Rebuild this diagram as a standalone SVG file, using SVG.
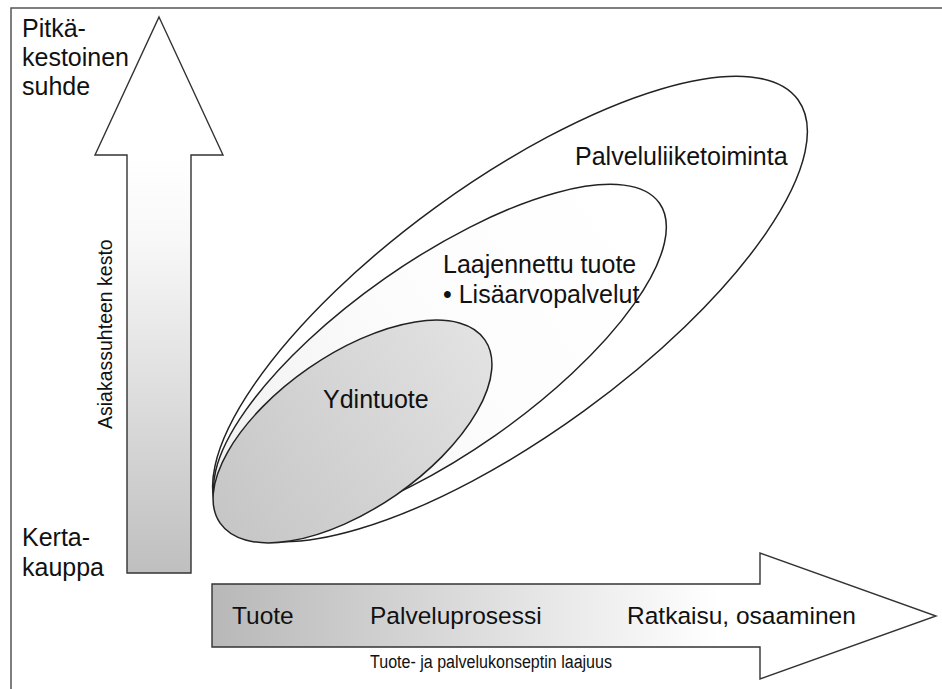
<svg xmlns="http://www.w3.org/2000/svg" width="942" height="689" viewBox="0 0 942 689">
  <style>
    .lbl { font-family: "Liberation Sans", Arial, sans-serif; fill: #111; }
    .big { font-size: 25px; }
    .axis-lbl { font-size: 24.5px; }
    .outline { stroke: #222; stroke-width: 1.5; }
    .block { stroke: #333; stroke-width: 1.4; stroke-linejoin: miter; }
  </style>
  <defs>
    <linearGradient id="gradUp" x1="0" y1="155" x2="0" y2="573" gradientUnits="userSpaceOnUse">
      <stop offset="0" stop-color="#ffffff"/>
      <stop offset="0.2" stop-color="#f8f8f8"/>
      <stop offset="1" stop-color="#bfbfbf"/>
    </linearGradient>
    <linearGradient id="gradRight" x1="212" y1="0" x2="936" y2="0" gradientUnits="userSpaceOnUse">
      <stop offset="0" stop-color="#b8b8b8"/>
      <stop offset="0.7" stop-color="#ffffff"/>
      <stop offset="1" stop-color="#ffffff"/>
    </linearGradient>
    <linearGradient id="gradCore" x1="0" y1="0" x2="1" y2="0">
      <stop offset="0" stop-color="#c6c6c6"/>
      <stop offset="1" stop-color="#e2e2e2"/>
    </linearGradient>
    <linearGradient id="gradExt" x1="0" y1="0" x2="1" y2="0">
      <stop offset="0" stop-color="#f0f0f0"/>
      <stop offset="0.5" stop-color="#fcfcfc"/>
      <stop offset="1" stop-color="#ffffff"/>
    </linearGradient>
  </defs>

  <!-- page background and frame -->
  <rect x="0" y="0" width="942" height="689" fill="#ffffff"/>
  <path d="M11,689 L11,8 L942,8" fill="none" stroke="#555" stroke-width="1.5"/>

  <!-- block arrows for the two axes -->
  <g id="connectors">
    <path id="axis-duration" class="block" fill="url(#gradUp)"
          d="M159,17 L223,155 L191,155 L191,573 L127,573 L127,155 L95,155 Z"/>
    <path id="axis-scope" class="block" fill="url(#gradRight)"
          d="M212,584 L760,584 L760,553 L936,616 L760,679 L760,647 L212,647 Z"/>
  </g>

  <!-- nested offering ellipses, all meeting near the lower-left corner -->
  <g id="node-service-business">
    <ellipse class="outline" cx="510" cy="309" rx="356" ry="126" fill="#ffffff" transform="rotate(-36 510 309)"/>
    <text class="lbl big" x="575" y="165">Palveluliiketoiminta</text>
  </g>
  <g id="node-extended-product">
    <ellipse class="outline" cx="440" cy="357" rx="268" ry="96" fill="url(#gradExt)" transform="rotate(-35 440 357)"/>
    <text class="lbl big" x="443" y="273">Laajennettu tuote</text>
    <text class="lbl big" x="443" y="303">• Lisäarvopalvelut</text>
  </g>
  <g id="node-core-product">
    <ellipse class="outline" cx="352.5" cy="431.5" rx="161" ry="77" fill="url(#gradCore)" transform="rotate(-34.7 352.5 431.5)"/>
    <text class="lbl big" x="323" y="408">Ydintuote</text>
  </g>

  <!-- axis end labels -->
  <g id="label-long-term">
    <text class="lbl big" x="22" y="37">Pitkä-</text>
    <text class="lbl big" x="22" y="66">kestoinen</text>
    <text class="lbl big" x="22" y="95">suhde</text>
  </g>
  <g id="label-one-off">
    <text class="lbl big" x="22" y="546">Kerta-</text>
    <text class="lbl big" x="22" y="576">kauppa</text>
  </g>

  <!-- axis titles -->
  <text class="lbl" font-size="19.5" transform="translate(112 429) rotate(-90)">Asiakassuhteen kesto</text>
  <text class="lbl" x="370" y="668" font-size="18" textLength="242" lengthAdjust="spacingAndGlyphs">Tuote- ja palvelukonseptin laajuus</text>

  <!-- stages along the scope axis -->
  <g id="scope-stages">
    <text class="lbl axis-lbl" x="232" y="624">Tuote</text>
    <text class="lbl axis-lbl" x="370" y="624">Palveluprosessi</text>
    <text class="lbl axis-lbl" x="627" y="624">Ratkaisu, osaaminen</text>
  </g>
</svg>
